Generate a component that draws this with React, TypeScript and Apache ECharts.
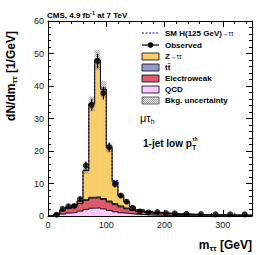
import React, { useEffect, useRef } from 'react';
import * as echarts from 'echarts';

// ---- data (events / GeV) ----
const binEdges = [0, 10, 20, 30, 40, 50, 60, 70, 80, 90, 100, 110, 120, 130, 140, 150, 165, 180, 195, 210, 225, 250, 275, 300, 325, 350];
const observed = [null, 0.4, 2.2, 3.0, 3.1, 5.2, 15.5, 34.2, 47.7, 37.8, 21.2, 9.8, 6.3, 4.4, 2.5, 1.4, 1.1, 1.2, 0.9, 0.8, 0.7, 0.6, 0.5, 0.5, 0.5];
const observedErr = [0, 0.2, 0.45, 0.55, 0.55, 0.7, 1.25, 1.85, 2.2, 1.95, 1.45, 1.0, 0.8, 0.65, 0.5, 0.3, 0.27, 0.28, 0.25, 0.23, 0.17, 0.15, 0.14, 0.14, 0.14];
const qcd = [0.05, 0.3, 0.6, 0.9, 1.1, 1.5, 2.0, 2.4, 2.5, 2.2, 1.7, 1.3, 1.0, 0.8, 0.6, 0.45, 0.3, 0.22, 0.18, 0.14, 0.1, 0.08, 0.06, 0.05, 0.04];
const electroweak = [0.05, 0.3, 1.0, 1.4, 1.8, 2.3, 2.8, 3.1, 3.1, 2.9, 2.6, 2.2, 1.8, 1.4, 1.1, 0.9, 0.7, 0.55, 0.45, 0.35, 0.3, 0.25, 0.2, 0.16, 0.13];
const ttbar = [0, 0.02, 0.05, 0.08, 0.1, 0.15, 0.2, 0.25, 0.3, 0.3, 0.3, 0.3, 0.28, 0.25, 0.22, 0.2, 0.18, 0.15, 0.13, 0.11, 0.1, 0.08, 0.06, 0.05, 0.04];
const ztautau = [0, 0, 0.15, 0.25, 0.3, 0.65, 9.0, 28.8, 42.1, 33.6, 16.4, 6.7, 3.1, 1.85, 0.9, 0.35, 0.22, 0.18, 0.14, 0.1, 0.05, 0.04, 0.03, 0.04, 0.04];
const higgs = [0, 0, 0, 0, 0.02, 0.05, 0.1, 0.2, 0.3, 0.4, 0.45, 0.4, 0.3, 0.2, 0.12, 0.08, 0.05, 0.03, 0.02, 0.01, 0, 0, 0, 0, 0];
const bkgUnc = [0.05, 0.1, 0.2, 0.25, 0.3, 0.4, 1.0, 2.2, 3.0, 2.5, 1.4, 0.7, 0.4, 0.3, 0.2, 0.15, 0.1, 0.08, 0.07, 0.06, 0.05, 0.04, 0.03, 0.03, 0.03];

const xMin = 0, xMax = 350, yMin = 0, yMax = 60;

const COLORS = {
  qcd: '#FACAFF',
  ewk: '#DE5A6A',
  tt: '#9B98CC',
  ztt: '#F8CE68',
};

const FONT = '"Liberation Sans", Arial, Helvetica, sans-serif';

function hatchSegments(x: number, y: number, w: number, h: number, s: number) {
  const segs: number[][] = [];
  for (let c = -w; c <= h; c += s) {
    const lo = Math.max(0, -c), hi = Math.min(w, h - c);
    if (lo < hi) segs.push([x + lo, y + lo + c, x + hi, y + hi + c]);
  }
  for (let c = 0; c <= w + h; c += s) {
    const lo = Math.max(0, c - h), hi = Math.min(w, c);
    if (lo < hi) segs.push([x + lo, y + c - lo, x + hi, y + c - hi]);
  }
  return segs;
}

export default function App() {
  const ref = useRef<HTMLDivElement>(null);
  useEffect(() => {
    if (!ref.current) return;
    const chart = echarts.init(ref.current, null, { renderer: 'svg' });
    const n = qcd.length;
    const c1 = qcd.map((v) => v);
    const c2 = c1.map((v, i) => v + electroweak[i]);
    const c3 = c2.map((v, i) => v + ttbar[i]);
    const c4 = c3.map((v, i) => v + ztautau[i]);
    const cs = c4.map((v, i) => v + higgs[i]);
    const layers = [
      { base: null as number[] | null, top: c1, color: COLORS.qcd },
      { base: c1, top: c2, color: COLORS.ewk },
      { base: c2, top: c3, color: COLORS.tt },
      { base: c3, top: c4, color: COLORS.ztt },
    ];
    const fillData: number[][] = [];
    layers.forEach((L, li) => {
      for (let i = 0; i < n; i++) {
        fillData.push([binEdges[i], binEdges[i + 1], L.base ? L.base[i] : 0, L.top[i], li]);
      }
    });
    const layerColors = layers.map((l) => l.color);
    const stepData = (arr: number[]) => {
      const d = arr.map((v, i) => [binEdges[i], v]);
      d.push([binEdges[n], arr[n - 1]]);
      return d;
    };
    const uncData = c4.map((v, i) => [binEdges[i], binEdges[i + 1], Math.max(0, v - bkgUnc[i]), v + bkgUnc[i]]);
    const obsData: number[][] = [];
    const errData: number[][] = [];
    observed.forEach((v, i) => {
      if (v == null) return;
      const cx = (binEdges[i] + binEdges[i + 1]) / 2;
      obsData.push([cx, v]);
      errData.push([cx, v - observedErr[i], v + observedErr[i]]);
    });

    const outlineStyle = { color: '#111', width: 1 };

    const axisCommon = {
      axisLine: { show: true, onZero: false, lineStyle: { color: '#000', width: 1 } },
      axisTick: { show: true, inside: true, length: 6, lineStyle: { color: '#000', width: 1 } },
      minorTick: { show: true, splitNumber: 5, length: 3, lineStyle: { color: '#000', width: 1 } },
      splitLine: { show: false },
    };

    // legend graphics
    const lx = 142, lw = 17, lh = 7, tx = 165;
    const rows = [33, 45, 56.5, 67.5, 78.5, 89.5, 100.5];
    const graphic: any[] = [];
    graphic.push({ type: 'line', shape: { x1: lx, y1: rows[0], x2: lx + lw, y2: rows[0] }, style: { stroke: '#0000ff', lineWidth: 1, lineDash: [2, 1.5] } });
    graphic.push({ type: 'line', shape: { x1: lx, y1: rows[1], x2: lx + lw, y2: rows[1] }, style: { stroke: '#000', lineWidth: 1.2 } });
    graphic.push({ type: 'circle', shape: { cx: lx + lw / 2, cy: rows[1], r: 2.8 }, style: { fill: '#000' } });
    [COLORS.ztt, COLORS.tt, COLORS.ewk, COLORS.qcd].forEach((col, k) => {
      graphic.push({ type: 'rect', shape: { x: lx, y: rows[2 + k] - lh / 2, width: lw, height: lh }, style: { fill: col, stroke: '#000', lineWidth: 0.8 } });
    });
    graphic.push({ type: 'rect', shape: { x: lx, y: rows[6] - lh / 2, width: lw, height: lh }, style: { fill: '#fff', stroke: '#000', lineWidth: 0.6 } });
    hatchSegments(lx, rows[6] - lh / 2, lw, lh, 2).forEach((s) => {
      graphic.push({ type: 'line', shape: { x1: s[0], y1: s[1], x2: s[2], y2: s[3] }, style: { stroke: '#777', lineWidth: 0.5 } });
    });
    const legText = (y: number, rich: string) => ({
      type: 'text', x: tx, y, style: {
        text: rich, fill: '#000', font: `bold 8px ${FONT}`, verticalAlign: 'middle', align: 'left',
        rich: { s: { fontSize: 6.5, fontWeight: 'normal', fontFamily: FONT } },
      },
    });
    graphic.push(legText(rows[0], 'SM H(125 GeV){s|→ττ}'));
    graphic.push(legText(rows[1], 'Observed'));
    graphic.push(legText(rows[2], 'Z{s|→ττ}'));
    graphic.push(legText(rows[3], 't\u0074\u0304'));
    graphic.push(legText(rows[4], 'Electroweak'));
    graphic.push(legText(rows[5], 'QCD'));
    graphic.push(legText(rows[6], 'Bkg. uncertainty'));
    // title
    graphic.push({
      type: 'text', x: 47, y: 15, style: {
        text: 'CMS, 4.9 fb{sup|-1} at 7 TeV', font: `bold 8px ${FONT}`, fill: '#000', verticalAlign: 'middle',
        rich: { sup: { fontSize: 5.5, fontWeight: 'bold', fontFamily: FONT, verticalAlign: 'top', padding: [0, 0, 5, 0] } },
      },
    });
    // channel labels
    graphic.push({
      type: 'text', x: 140, y: 118, style: {
        text: 'μτ{sub|h}', font: `11px ${FONT}`, fill: '#000', verticalAlign: 'middle',
        rich: { sub: { fontSize: 7, fontFamily: FONT, padding: [7, 0, 0, 0] } },
      },
    });
    graphic.push({
      type: 'text', x: 143, y: 143, style: {
        text: '1-jet low p{sub|T}{sup|τh}', font: `bold 10px ${FONT}`, fill: '#000', verticalAlign: 'middle',
        rich: {
          sub: { fontSize: 7, fontWeight: 'bold', fontFamily: FONT, padding: [8, 0, 0, 0] },
          sup: { fontSize: 5, fontWeight: 'bold', fontFamily: FONT, padding: [0, 0, 8, -4] },
        },
      },
    });
    // axis titles
    graphic.push({
      type: 'text', x: 11, y: 76, rotation: Math.PI / 2, style: {
        text: 'dN/dm{sub|ττ} [1/GeV]', font: `bold 12px ${FONT}`, fill: '#000', align: 'center', verticalAlign: 'middle',
        rich: { sub: { fontSize: 8, fontWeight: 'bold', fontFamily: FONT, padding: [6, 0, 0, 0] } },
      },
    });
    graphic.push({
      type: 'text', x: 252, y: 245, style: {
        text: 'm{sub|ττ} [GeV]', font: `bold 12px ${FONT}`, fill: '#000', align: 'right', verticalAlign: 'middle',
        rich: { sub: { fontSize: 8, fontWeight: 'bold', fontFamily: FONT, padding: [6, 0, 0, 0] } },
      },
    });

    chart.setOption({
      animation: false,
      grid: { left: 48, top: 21, right: 14, bottom: 39 },
      xAxis: [
        {
          type: 'value', min: xMin, max: xMax, interval: 100, position: 'bottom', ...axisCommon,
          axisLabel: { show: true, margin: 4, fontSize: 9, color: '#222', fontFamily: FONT, showMaxLabel: false },
        },
        {
          type: 'value', min: xMin, max: xMax, interval: 100, position: 'top', ...axisCommon,
          axisLabel: { show: false },
        },
      ],
      yAxis: [
        {
          type: 'value', min: yMin, max: yMax, interval: 10, position: 'left', ...axisCommon,
          axisLabel: { show: true, margin: 4, fontSize: 9, color: '#222', fontFamily: FONT },
        },
        {
          type: 'value', min: yMin, max: yMax, interval: 10, position: 'right', ...axisCommon,
          axisLabel: { show: false },
        },
      ],
      graphic,
      series: [
        {
          type: 'custom', name: 'fills', data: fillData, clip: true, z: 1,
          encode: { x: [0, 1], y: [2, 3] },
          renderItem: (params: any, api: any) => {
            const p0 = api.coord([api.value(0), api.value(3)]);
            const p1 = api.coord([api.value(1), api.value(2)]);
            const col = layerColors[api.value(4)];
            return {
              type: 'rect',
              shape: { x: p0[0] - 0.3, y: p0[1], width: p1[0] - p0[0] + 0.6, height: p1[1] - p0[1] },
              style: { fill: col },
            };
          },
        },
        {
          type: 'custom', name: 'unc', data: uncData, clip: true, z: 2,
          encode: { x: [0, 1], y: [2, 3] },
          renderItem: (params: any, api: any) => {
            const p0 = api.coord([api.value(0), api.value(3)]);
            const p1 = api.coord([api.value(1), api.value(2)]);
            const w = p1[0] - p0[0], h = p1[1] - p0[1];
            const children: any[] = [];
            if (h > 0.4) {
              hatchSegments(p0[0], p0[1], w, h, 2).forEach((s) => {
                children.push({ type: 'line', shape: { x1: s[0], y1: s[1], x2: s[2], y2: s[3] }, style: { stroke: 'rgba(90,90,90,0.75)', lineWidth: 0.5 } });
              });
            }
            return { type: 'group', children };
          },
        },
        { type: 'line', step: 'end', data: stepData(cs), symbol: 'none', z: 3, lineStyle: { color: '#0000ff', width: 1, type: [2, 1.5] } },
        { type: 'line', step: 'end', data: stepData(c1), symbol: 'none', z: 3, lineStyle: outlineStyle },
        { type: 'line', step: 'end', data: stepData(c2), symbol: 'none', z: 3, lineStyle: outlineStyle },
        { type: 'line', step: 'end', data: stepData(c3), symbol: 'none', z: 3, lineStyle: outlineStyle },
        { type: 'line', step: 'end', data: stepData(c4), symbol: 'none', z: 3, lineStyle: outlineStyle },
        {
          type: 'custom', name: 'err', data: errData, z: 4,
          encode: { x: 0, y: [1, 2] },
          renderItem: (params: any, api: any) => {
            const a = api.coord([api.value(0), api.value(1)]);
            const b = api.coord([api.value(0), api.value(2)]);
            return { type: 'line', shape: { x1: a[0], y1: a[1], x2: b[0], y2: b[1] }, style: { stroke: '#000', lineWidth: 1.2 } };
          },
        },
        { type: 'scatter', data: obsData, symbol: 'circle', symbolSize: 6, z: 5, itemStyle: { color: '#000' } },
      ],
    });
    return () => chart.dispose();
  }, []);
  return <div ref={ref} style={{ position: 'absolute', left: 0, top: 0, width: 266, height: 255 }} />;
}
